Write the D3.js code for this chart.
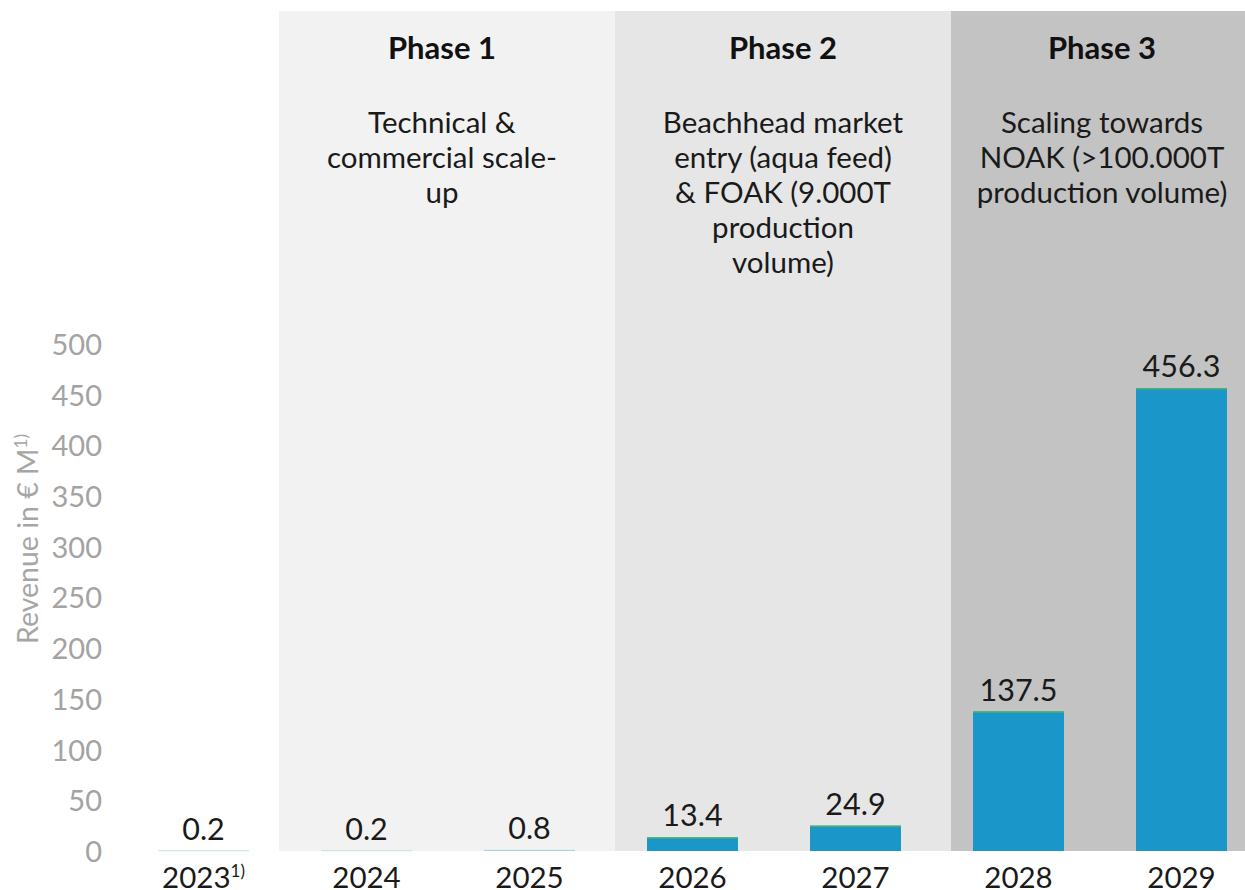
<!DOCTYPE html>
<html>
<head>
<meta charset="utf-8">
<script src="https://cdn.jsdelivr.net/npm/d3@7"></script>
<style>
  html, body { margin: 0; padding: 0; background: #ffffff; }
  svg { display: block; font-family: Lato, "Open Sans", sans-serif; }
</style>
</head>
<body>
<svg id="chart" width="1245" height="890"></svg>
<script>
// Revenue plan by year, grouped into three phases
const years = ["2023", "2024", "2025", "2026", "2027", "2028", "2029"];
const yearNotes = ["1)", "", "", "", "", "", ""];
const revenue = [0.2, 0.2, 0.8, 13.4, 24.9, 137.5, 456.3];
const yTicks = [0, 50, 100, 150, 200, 250, 300, 350, 400, 450, 500];
const phaseTitles = ["Phase 1", "Phase 2", "Phase 3"];
const phaseLines = [
  ["Technical &", "commercial scale-", "up"],
  ["Beachhead market", "entry (aqua feed)", "& FOAK (9.000T", "production", "volume)"],
  ["Scaling towards", "NOAK (>100.000T", "production volume)"]
];
const axisTitle = "Revenue in € M";
const axisTitleNote = "1)";

const W = 1245, H = 890;
const svg = d3.select("#chart");

// Phase panels sit behind the bars
const panelLeft = 279, panelTop = 11, panelWidth = 336;
const panelFills = ["#f2f2f2", "#e6e6e6", "#c3c3c3"];

const baseY = 851;
const y = d3.scaleLinear().domain([0, 500]).range([baseY, 344]);
const x = d3.scaleBand().domain(years).range([122, 1263])
  .paddingInner(0.442).paddingOuter(0.221);

const panels = svg.append("g").attr("class", "phases");
phaseTitles.forEach((title, i) => {
  const x0 = panelLeft + i * panelWidth;
  const x1 = i === phaseTitles.length - 1 ? 1253 : x0 + panelWidth;
  panels.append("rect")
    .attr("x", x0).attr("y", panelTop)
    .attr("width", x1 - x0).attr("height", baseY - panelTop)
    .attr("fill", panelFills[i]);
  const cx = (x0 + x1) / 2 - (i === 0 ? 5 : 0);
  panels.append("text")
    .attr("x", cx).attr("y", 59)
    .attr("text-anchor", "middle")
    .attr("font-size", 31).attr("font-weight", 700)
    .attr("fill", "#111111")
    .text(title);
  const t = panels.append("text")
    .attr("x", cx).attr("y", 133)
    .attr("text-anchor", "middle")
    .attr("font-size", 29.5)
    .attr("fill", "#1a1a1a");
  phaseLines[i].forEach((line, j) => {
    t.append("tspan").attr("x", cx).attr("y", 133 + j * 35).text(line);
  });
});

// Y axis
const yAxis = d3.axisLeft(y).tickValues(yTicks).tickSize(0).tickPadding(0);
const gy = svg.append("g").attr("transform", "translate(102,0)").call(yAxis);
gy.select(".domain").remove();
gy.selectAll("text")
  .attr("font-family", "Lato, sans-serif")
  .attr("font-size", 29)
  .attr("fill", "#a3a3a3")
  .attr("dy", "0.36em");

// Y axis title
const title = svg.append("text")
  .attr("transform", "translate(38,539) rotate(-90)")
  .attr("text-anchor", "middle")
  .attr("font-size", 28.5)
  .attr("fill", "#a6a6a6");
title.append("tspan").text(axisTitle);
title.append("tspan").attr("font-size", 17).attr("dy", -11).text(axisTitleNote);

// Bars
const data = years.map((yr, i) => ({ year: yr, value: revenue[i], note: yearNotes[i] }));
const bars = svg.append("g").attr("class", "bars");
bars.selectAll("rect.bar").data(data).join("rect")
  .attr("class", "bar")
  .attr("x", d => x(d.year))
  .attr("y", d => y(d.value))
  .attr("width", x.bandwidth())
  .attr("height", d => baseY - y(d.value))
  .attr("fill", "#1a96c8");
// thin accent line on top of each visible bar
bars.selectAll("line.cap").data(data.filter(d => baseY - y(d.value) > 2)).join("line")
  .attr("class", "cap")
  .attr("x1", d => x(d.year)).attr("x2", d => x(d.year) + x.bandwidth())
  .attr("y1", d => y(d.value) + 0.5).attr("y2", d => y(d.value) + 0.5)
  .attr("stroke", "#4caf6a").attr("stroke-width", 1.5);
// faint baseline trace for near-zero bars
bars.selectAll("line.trace").data(data.filter(d => baseY - y(d.value) <= 2)).join("line")
  .attr("class", "trace")
  .attr("x1", d => x(d.year)).attr("x2", d => x(d.year) + x.bandwidth())
  .attr("y1", d => y(d.value)).attr("y2", d => y(d.value))
  .attr("stroke", "#d3e6e8").attr("stroke-width", 1);

// Value labels
const fmt = d3.format(".1f");
bars.selectAll("text.val").data(data).join("text")
  .attr("class", "val")
  .attr("x", d => x(d.year) + x.bandwidth() / 2)
  .attr("y", d => y(d.value) - 11)
  .attr("text-anchor", "middle")
  .attr("font-size", 30.5)
  .attr("fill", "#1a1a1a")
  .text(d => fmt(d.value));

// Year labels
const xl = svg.append("g").selectAll("text").data(data).join("text")
  .attr("x", d => x(d.year) + x.bandwidth() / 2)
  .attr("y", 888)
  .attr("text-anchor", "middle")
  .attr("font-size", 29.5)
  .attr("fill", "#1a1a1a");
xl.append("tspan").text(d => d.year);
xl.filter(d => d.note).append("tspan")
  .attr("font-size", 17).attr("dy", -11).text(d => d.note);
</script>
</body>
</html>
